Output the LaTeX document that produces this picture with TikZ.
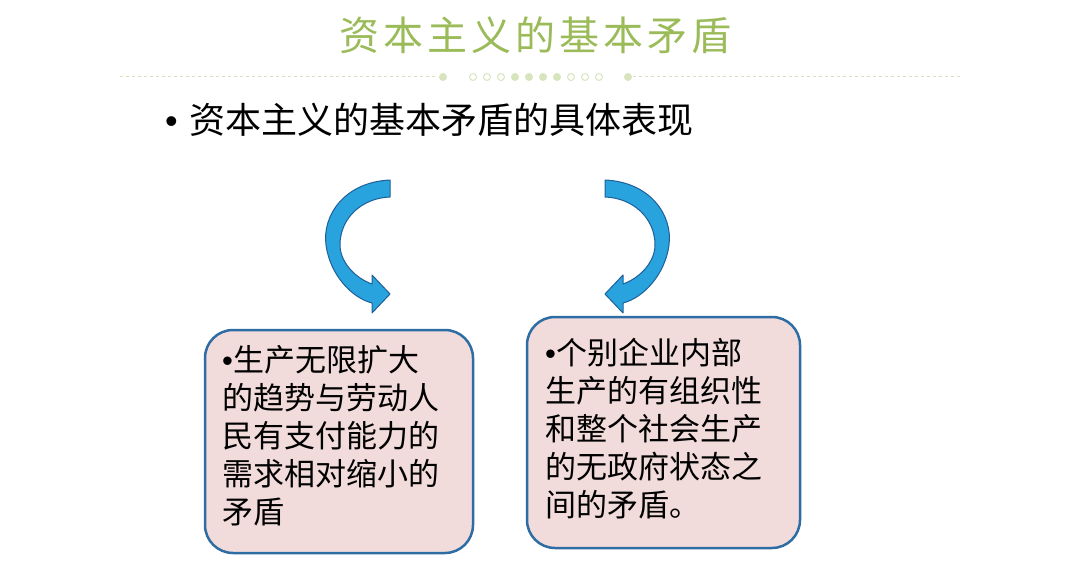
\documentclass[tikz,border=0pt]{standalone}
\usepackage{fontspec}
\setmainfont{Noto Sans CJK SC}
\newfontfamily\lat{Liberation Sans}
\definecolor{tgreen}{HTML}{9BBB59}
\definecolor{dgreen}{HTML}{D7E4BD}
\definecolor{abl}{HTML}{29A3DD}
\definecolor{abd}{HTML}{1F5F99}
\definecolor{bpink}{HTML}{F2DCDB}
\definecolor{bblue}{HTML}{2E6DA4}
\begin{document}
\begin{tikzpicture}[x=1pt,y=-1pt,
  box/.style={draw=bblue,line width=2.5pt,fill=bpink,rounded corners=28pt},
  btxt/.style={anchor=north west,align=left,font=\fontsize{31}{38}\selectfont,inner sep=0pt},
  arr/.style={fill=abl,draw=abd,line width=1pt,line join=round},
  ocirc/.style={circle,draw=dgreen,line width=1pt,minimum size=7pt,inner sep=0pt},
  fcirc/.style={circle,fill=dgreen,minimum size=8pt,inner sep=0pt}]
\useasboundingbox (0,0) rectangle (1080,578);
\node (title) at (535,35) {\fontsize{40}{44}\selectfont\color{tgreen}资\kern4pt 本\kern4pt 主\kern4pt 义\kern4pt 的\kern4pt 基\kern4pt 本\kern4pt 矛\kern4pt 盾};
\coordinate (l0) at (120,77); \coordinate (l1) at (438,77);
\coordinate (r0) at (633,77); \coordinate (r1) at (960,77);
\draw[dgreen,dashed,line width=1pt] (l0) -- (l1);
\draw[dgreen,dashed,line width=1pt] (r0) -- (r1);
\node[fcirc] (d0) at (443,77) {}; \node[fcirc] (d1) at (628,77) {};
\foreach \i/\s in {0/ocirc,1/ocirc,2/ocirc,3/fcirc,4/fcirc,5/fcirc,6/fcirc,7/ocirc,8/ocirc,9/ocirc}
  \node[\s] (c\i) at (473+14*\i,77) {};
\node[anchor=west,inner sep=0pt] (sub) at (165,120) {\fontsize{36}{40}\selectfont {\lat •}\kern12pt 资本主义的基本矛盾的具体表现};
% left arrow
\draw[arr] (390,180) .. controls (345,182) and (322,215) .. (326,245) .. controls (330,275) and (352,298) .. (372,303) -- (372,313) -- (390,294) -- (372,275) -- (372,284) .. controls (355,278) and (340,262) .. (340,245) .. controls (340,218) and (362,198) .. (390,197) -- cycle;
% right arrow
\draw[arr] (605,180) .. controls (650,182) and (673,215) .. (669,245) .. controls (665,275) and (643,298) .. (623,303) -- (623,313) -- (605,294) -- (623,275) -- (623,284) .. controls (640,278) and (655,262) .. (655,245) .. controls (655,218) and (633,198) .. (605,197) -- cycle;
\draw[box] (205,330) rectangle (473,553);
\draw[box] (527,317) rectangle (800,548);
\node[btxt] (lt) at (222,345) {{\lat •}生产无限扩大\\的趋势与劳动人\\民有支付能力的\\需求相对缩小的\\矛盾};
\node[btxt] (rt) at (545,338) {{\lat •}个别企业内部\\生产的有组织性\\和整个社会生产\\的无政府状态之\\间的矛盾。};
\end{tikzpicture}
\end{document}
